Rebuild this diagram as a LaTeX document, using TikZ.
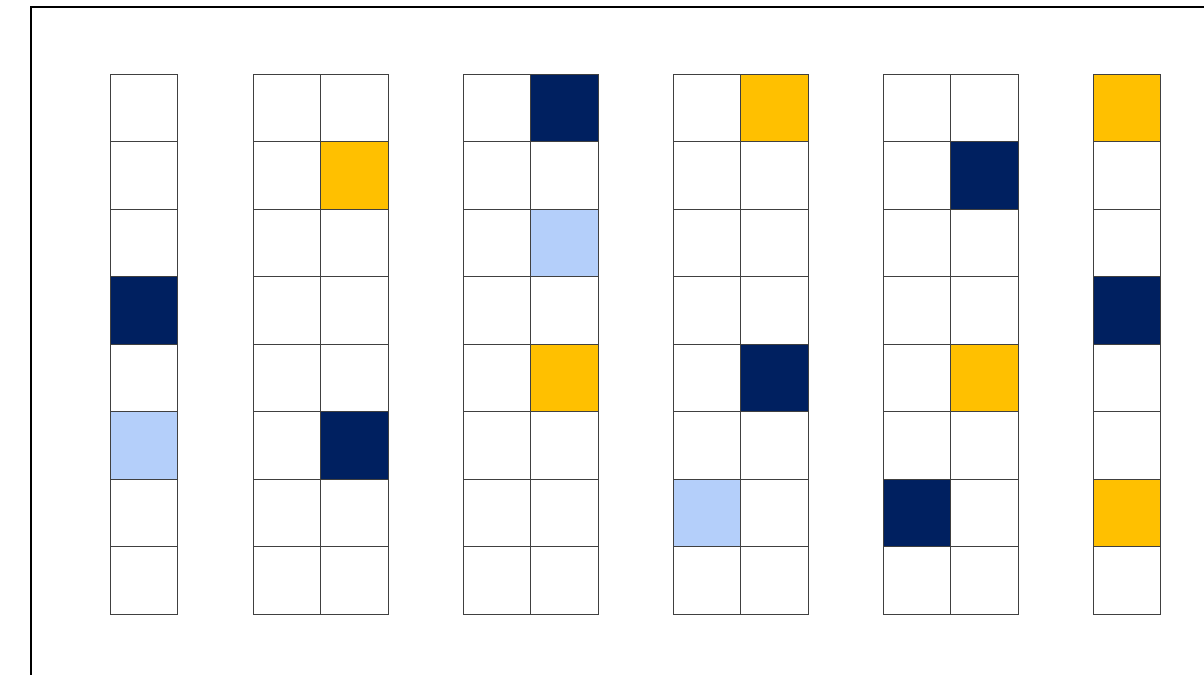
\documentclass[tikz,border=0pt]{standalone}
\definecolor{navy}{HTML}{002060}
\definecolor{gold}{HTML}{FFC000}
\definecolor{sky}{HTML}{B4CFFA}
\begin{document}
\begin{tikzpicture}[x=0.02cm,y=-0.02cm,
  cell/.style={draw=black!75,line width=0.5pt,minimum size=1.35cm,inner sep=0pt,outer sep=0pt,anchor=north west,fill=white},
  frame/.style={line width=1.2pt,black}]
\useasboundingbox (0,0) rectangle (1204,675);
\fill[white] (0,0) rectangle (1204,675);
\draw[frame] (31,675) -- (31,7) -- (1204,7);
% columns: name/x
\foreach \n/\x in {a/110,b/253,c/320.5,d/463,e/530.5,f/673,g/740.5,h/883,i/950.5,j/1093}{
  \foreach \r in {1,...,8}{
    \node[cell] (\n\r) at (\x,{74+67.5*(\r-1)}) {};
  }
}
% coloured cells
\foreach \n/\r/\c in {a/4/navy,a/6/sky,
  c/2/gold,c/6/navy,
  e/1/navy,e/3/sky,e/5/gold,
  g/1/gold,g/5/navy,f/7/sky,
  i/2/navy,i/5/gold,h/7/navy,
  j/1/gold,j/4/navy,j/7/gold}{
  \node[cell,fill=\c] at (\n\r.north west) {};
}
\end{tikzpicture}
\end{document}
